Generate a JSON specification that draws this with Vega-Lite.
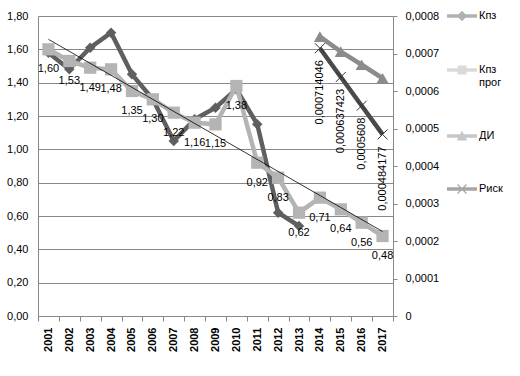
{
  "$schema": "https://vega.github.io/schema/vega-lite/v6.json",
  "width": 355,
  "height": 300,
  "autosize": {"type": "none"},
  "padding": {"left": 38, "top": 16, "right": 127, "bottom": 60},
  "background": "white",
  "config": {
    "locale": {"number": {"decimal": ",", "thousands": " ", "grouping": [3], "currency": ["", ""]}},
    "view": {"stroke": null},
    "font": "Liberation Sans",
    "axis": {"labelFont": "Liberation Sans", "labelFontSize": 11, "labelColor": "#000", "domainColor": "#888", "tickColor": "#888", "gridColor": "#888", "labelOverlap": false}
  },
  "datasets": {
    "d": [
      {"year": 2001, "series": "Кпз", "value": 1.58},
      {"year": 2002, "series": "Кпз", "value": 1.48},
      {"year": 2003, "series": "Кпз", "value": 1.61},
      {"year": 2004, "series": "Кпз", "value": 1.70},
      {"year": 2005, "series": "Кпз", "value": 1.45},
      {"year": 2006, "series": "Кпз", "value": 1.30},
      {"year": 2007, "series": "Кпз", "value": 1.05},
      {"year": 2008, "series": "Кпз", "value": 1.18},
      {"year": 2009, "series": "Кпз", "value": 1.25},
      {"year": 2010, "series": "Кпз", "value": 1.36},
      {"year": 2011, "series": "Кпз", "value": 1.15},
      {"year": 2012, "series": "Кпз", "value": 0.62},
      {"year": 2013, "series": "Кпз", "value": 0.54},
      {"year": 2001, "series": "Кпз прог", "value": 1.60},
      {"year": 2002, "series": "Кпз прог", "value": 1.53},
      {"year": 2003, "series": "Кпз прог", "value": 1.49},
      {"year": 2004, "series": "Кпз прог", "value": 1.48},
      {"year": 2005, "series": "Кпз прог", "value": 1.35},
      {"year": 2006, "series": "Кпз прог", "value": 1.30},
      {"year": 2007, "series": "Кпз прог", "value": 1.22},
      {"year": 2008, "series": "Кпз прог", "value": 1.16},
      {"year": 2009, "series": "Кпз прог", "value": 1.15},
      {"year": 2010, "series": "Кпз прог", "value": 1.38},
      {"year": 2011, "series": "Кпз прог", "value": 0.92},
      {"year": 2012, "series": "Кпз прог", "value": 0.83},
      {"year": 2013, "series": "Кпз прог", "value": 0.62},
      {"year": 2014, "series": "Кпз прог", "value": 0.71},
      {"year": 2015, "series": "Кпз прог", "value": 0.64},
      {"year": 2016, "series": "Кпз прог", "value": 0.56},
      {"year": 2017, "series": "Кпз прог", "value": 0.48},
      {"year": 2014, "series": "ДИ", "value": 0.000745},
      {"year": 2015, "series": "ДИ", "value": 0.000705},
      {"year": 2016, "series": "ДИ", "value": 0.000670},
      {"year": 2017, "series": "ДИ", "value": 0.000634},
      {"year": 2014, "series": "Риск", "value": 0.000714046},
      {"year": 2015, "series": "Риск", "value": 0.000637423},
      {"year": 2016, "series": "Риск", "value": 0.0005608},
      {"year": 2017, "series": "Риск", "value": 0.000484177}
    ]
  },
  "data": {"name": "d"},
  "layer": [
    {
      "encoding": {
        "x": {"field": "year", "type": "ordinal", "title": null,
          "scale": {"type": "band", "paddingInner": 0, "paddingOuter": 0},
          "axis": {"labelAngle": -90, "labelFontWeight": "bold", "tickBand": "extent", "tickSize": 5, "labelPadding": 6, "grid": false, "labelFontSize": 11}},
        "y": {"field": "value", "type": "quantitative", "title": null,
          "scale": {"domain": [0, 1.8], "nice": false, "zero": true},
          "axis": {"orient": "left", "values": [0, 0.2, 0.4, 0.6, 0.8, 1.0, 1.2, 1.4, 1.6, 1.8], "format": ".2f", "ticks": false, "labelPadding": 10, "grid": true}}
      },
      "layer": [
        {
          "transform": [{"filter": "datum.series == 'Кпз'"}],
          "mark": {"type": "line", "color": "#5f5f5f", "strokeWidth": 4.5}
        },
        {
          "transform": [{"filter": "datum.series == 'Кпз'"}],
          "mark": {"type": "point", "shape": "diamond", "filled": true, "color": "#5f5f5f", "size": 110, "opacity": 1}
        },
        {
          "transform": [{"filter": "datum.series == 'Кпз прог'"}],
          "mark": {"type": "line", "color": "#b4b4b4", "strokeWidth": 4.5}
        },
        {
          "transform": [{"filter": "datum.series == 'Кпз прог'"}],
          "mark": {"type": "point", "shape": "square", "filled": true, "color": "#b4b4b4", "size": 150, "opacity": 1}
        },
        {
          "transform": [
            {"filter": "datum.series == 'Кпз прог'"},
            {"regression": "value", "on": "year"}
          ],
          "mark": {"type": "line", "color": "#000", "strokeWidth": 0.8}
        },
        {
          "transform": [{"filter": "datum.series == 'Кпз прог'"}],
          "mark": {"type": "text", "dy": 20, "fontSize": 11, "color": "#000", "font": "Liberation Sans"},
          "encoding": {
            "text": {"field": "value", "type": "quantitative", "format": ".2f"}
          }
        },
        {
          "transform": [{"filter": "datum.year < 0"}],
          "mark": {"type": "point", "filled": true},
          "encoding": {
            "color": {"field": "series", "type": "nominal",
              "scale": {"domain": ["Кпз", "Кпз прог", "ДИ", "Риск"], "range": ["#5f5f5f", "#b4b4b4", "#8c8c8c", "#4a4a4a"]},
              "legend": {"title": null, "orient": "none", "legendX": 409, "legendY": -15, "symbolSize": 900, "symbolOpacity": 1, "symbolStrokeWidth": 0, "labelFont": "Liberation Sans", "labelFontSize": 11, "labelColor": "#000", "rowPadding": 33, "labelOffset": 2,
                "labelExpr": "datum.label == 'Кпз прог' ? ['Кпз', 'прог'] : datum.label"}},
            "shape": {"field": "series", "type": "nominal",
              "scale": {"domain": ["Кпз", "Кпз прог", "ДИ", "Риск"], "range": [
                "M-1,-0.12H1V0.12H-1Z M0,-0.35L0.35,0L0,0.35L-0.35,0Z",
                "M-1,-0.12H1V0.12H-1Z M-0.3,-0.3H0.3V0.3H-0.3Z",
                "M-1,-0.12H1V0.12H-1Z M0,-0.35L0.35,0.3H-0.35Z",
                "M-1,-0.12H1V0.12H-1Z M-0.33,-0.27L-0.27,-0.33L0.33,0.27L0.27,0.33Z M-0.33,0.27L0.27,-0.33L0.33,-0.27L-0.27,0.33Z"
              ]}}
          }
        }
      ]
    },
    {
      "encoding": {
        "x": {"field": "year", "type": "ordinal", "title": null},
        "y": {"field": "value", "type": "quantitative", "title": null,
          "scale": {"domain": [0, 0.0008], "nice": false},
          "axis": {"orient": "right", "values": [0, 0.0001, 0.0002, 0.0003, 0.0004, 0.0005, 0.0006, 0.0007, 0.0008], "format": ".4~f", "tickSize": 4, "labelPadding": 8, "grid": false}}
      },
      "layer": [
        {
          "transform": [{"filter": "datum.series == 'ДИ'"}],
          "mark": {"type": "line", "color": "#8c8c8c", "strokeWidth": 4.5}
        },
        {
          "transform": [{"filter": "datum.series == 'ДИ'"}],
          "mark": {"type": "point", "shape": "triangle-up", "filled": true, "color": "#8c8c8c", "size": 150, "opacity": 1}
        },
        {
          "transform": [{"filter": "datum.series == 'Риск'"}],
          "mark": {"type": "line", "color": "#4a4a4a", "strokeWidth": 4.5}
        },
        {
          "transform": [{"filter": "datum.series == 'Риск'"}],
          "mark": {"type": "point", "shape": "M-1,-1L1,1M-1,1L1,-1", "filled": false, "color": "#333", "strokeWidth": 1, "size": 100, "opacity": 1}
        },
        {
          "transform": [{"filter": "datum.series == 'Риск'"}],
          "mark": {"type": "text", "angle": 270, "align": "right", "baseline": "middle", "dx": -12, "fontSize": 11, "color": "#000", "font": "Liberation Sans"},
          "encoding": {
            "text": {"field": "value", "type": "quantitative", "format": ".9~f"}
          }
        }
      ]
    }
  ],
  "resolve": {"scale": {"y": "independent"}}
}
